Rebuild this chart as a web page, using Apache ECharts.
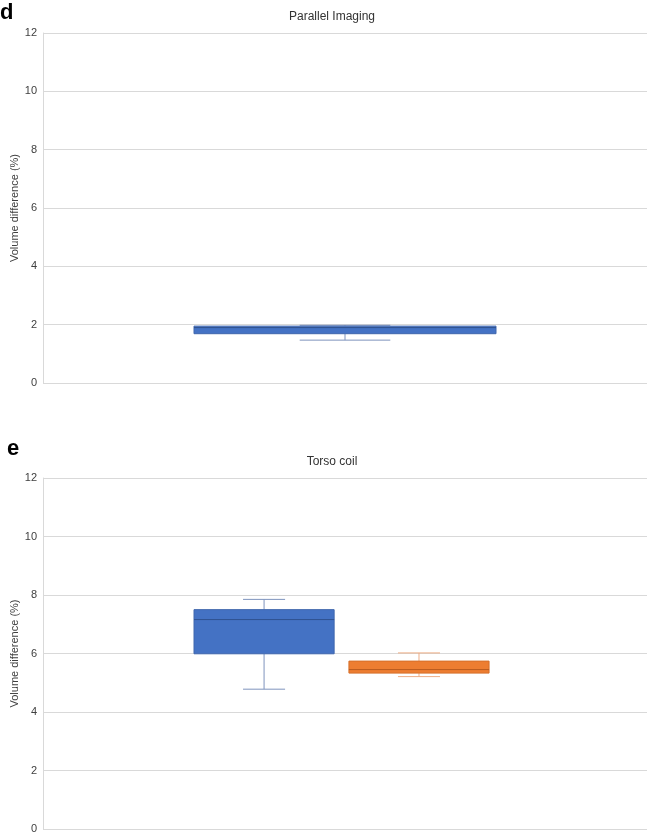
<!DOCTYPE html>
<html>
<head>
<meta charset="utf-8">
<script src="https://cdn.jsdelivr.net/npm/echarts@6/dist/echarts.min.js"></script>
<style>
html,body{margin:0;padding:0;background:#fff;}
#c{width:649px;height:835px;}
</style>
</head>
<body>
<div id="c"></div>
<script>
// ---- Data ----
const yTicks = [0, 2, 4, 6, 8, 10, 12];
const topTitle = 'Parallel Imaging';
const bottomTitle = 'Torso coil';
const yAxisName = 'Volume difference (%)';
const topCategories = ['Parallel Imaging'];
// [min, Q1, median, Q3, max]
const topBox = [1.47, 1.69, 1.90, 1.95, 1.98];
const bottomCategories = ['Torso coil'];
const bottomBoxBlue = [4.78, 5.99, 7.16, 7.50, 7.85];
const bottomBoxOrange = [5.21, 5.33, 5.45, 5.74, 6.02];

// ---- Styles ----
const BLUE = {fill: '#4472C4', border: '#3f66ad', median: '#2f528f', whisker: '#7e93bd'};
const ORANGE = {fill: '#ED7D31', border: '#d56f2b', median: '#b85a1e', whisker: '#eeae86'};

function makeRender(style, offsetFrac, widthFrac) {
  return function (params, api) {
    const cat = api.value(0);
    const band = api.size([1, 0])[0];
    const cx = api.coord([cat, 0])[0] + offsetFrac * band;
    const w = widthFrac * band;
    const capW = w * 0.3;
    const yMin = api.coord([cat, api.value(1)])[1];
    const yQ1 = api.coord([cat, api.value(2)])[1];
    const yMed = api.coord([cat, api.value(3)])[1];
    const yQ3 = api.coord([cat, api.value(4)])[1];
    const yMax = api.coord([cat, api.value(5)])[1];
    const ls = {stroke: style.whisker, lineWidth: 1};
    return {
      type: 'group',
      children: [
        {type: 'line', shape: {x1: cx, y1: yQ1, x2: cx, y2: yMin}, style: ls},
        {type: 'line', shape: {x1: cx, y1: yQ3, x2: cx, y2: yMax}, style: ls},
        {type: 'line', shape: {x1: cx - capW / 2, y1: yMin, x2: cx + capW / 2, y2: yMin}, style: ls},
        {type: 'line', shape: {x1: cx - capW / 2, y1: yMax, x2: cx + capW / 2, y2: yMax}, style: ls},
        {type: 'rect', shape: {x: cx - w / 2, y: yQ3, width: w, height: yQ1 - yQ3},
          style: {fill: style.fill, stroke: style.border, lineWidth: 1}},
        {type: 'line', shape: {x1: cx - w / 2, y1: yMed, x2: cx + w / 2, y2: yMed},
          style: {stroke: style.median, lineWidth: 1}}
      ]
    };
  };
}

const FONT = 'Liberation Sans, Arial, sans-serif';
function yAxisCfg(gridIndex) {
  return {
    type: 'value', gridIndex: gridIndex, min: 0, max: 12, interval: 2,
    axisLine: {show: true, lineStyle: {color: '#d9d9d9'}},
    axisTick: {show: false},
    splitLine: {show: true, lineStyle: {color: '#d9d9d9', width: 1}},
    axisLabel: {color: '#404040', fontSize: 11, fontFamily: FONT, margin: 6,
      formatter: function (v) { return yTicks.indexOf(v) >= 0 ? String(v) : ''; }},
    name: yAxisName, nameLocation: 'middle', nameRotate: 90, nameGap: 23,
    nameMoveOverlap: false,
    nameTextStyle: {color: '#404040', fontSize: 11, fontFamily: FONT}
  };
}
function xAxisCfg(gridIndex, cats) {
  return {
    type: 'category', gridIndex: gridIndex, data: cats,
    axisLine: {show: false}, axisTick: {show: false}, axisLabel: {show: false},
    splitLine: {show: false}
  };
}

const chart = echarts.init(document.getElementById('c'), null, {renderer: 'canvas'});
chart.setOption({
  animation: false,
  backgroundColor: '#ffffff',
  title: [
    {text: topTitle, left: 327, top: 6, textAlign: 'center',
      textStyle: {fontSize: 12, fontWeight: 'normal', color: '#333333', fontFamily: FONT}},
    {text: bottomTitle, left: 327, top: 451, textAlign: 'center',
      textStyle: {fontSize: 12, fontWeight: 'normal', color: '#333333', fontFamily: FONT}}
  ],
  graphic: [
    {type: 'text', left: 0, top: 2, style: {text: 'd', font: 'bold 22px ' + FONT, fill: '#000'}},
    {type: 'text', left: 7, top: 438, style: {text: 'e', font: 'bold 22px ' + FONT, fill: '#000'}}
  ],
  grid: [
    {left: 43, right: 2, top: 33, height: 350, outerBoundsMode: 'none', containLabel: false},
    {left: 43, right: 2, top: 478, height: 351, outerBoundsMode: 'none', containLabel: false}
  ],
  xAxis: [xAxisCfg(0, topCategories), xAxisCfg(1, bottomCategories)],
  yAxis: [yAxisCfg(0), yAxisCfg(1)],
  series: [
    {type: 'custom', xAxisIndex: 0, yAxisIndex: 0,
      renderItem: makeRender(BLUE, 0, 0.5),
      encode: {x: 0, y: [1, 2, 3, 4, 5]},
      data: [[0].concat(topBox)]},
    {type: 'custom', xAxisIndex: 1, yAxisIndex: 1,
      renderItem: makeRender(BLUE, -0.134, 0.232),
      encode: {x: 0, y: [1, 2, 3, 4, 5]},
      data: [[0].concat(bottomBoxBlue)]},
    {type: 'custom', xAxisIndex: 1, yAxisIndex: 1,
      renderItem: makeRender(ORANGE, 0.1225, 0.232),
      encode: {x: 0, y: [1, 2, 3, 4, 5]},
      data: [[0].concat(bottomBoxOrange)]}
  ]
});
</script>
</body>
</html>
